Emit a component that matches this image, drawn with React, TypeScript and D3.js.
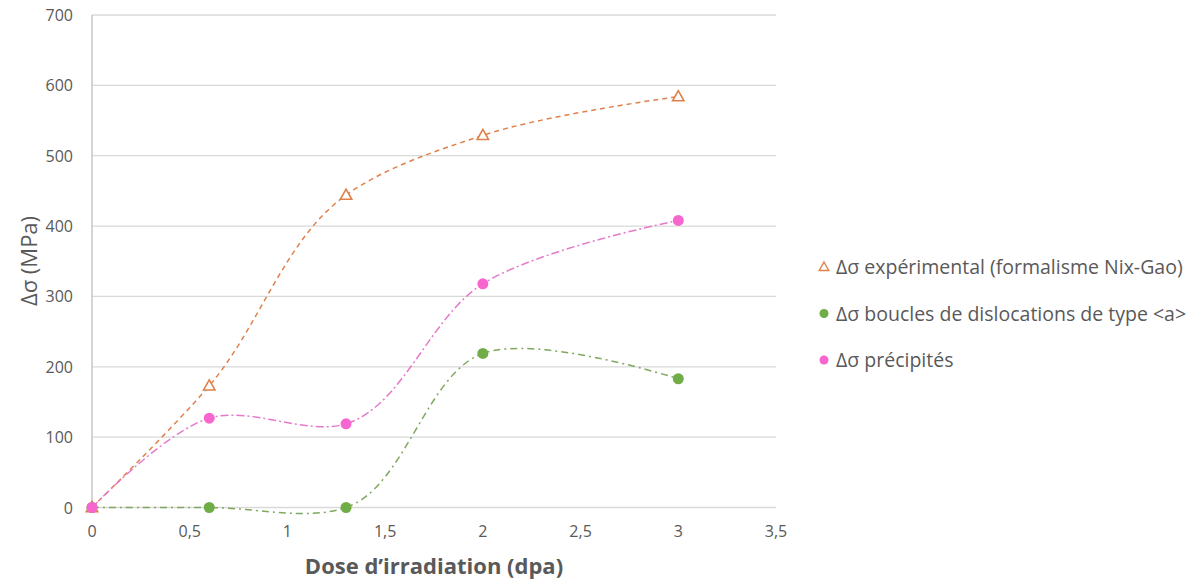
import React from "react";
import * as d3 from "d3";

const doses = [0, 0.6, 1.3, 2, 3];
const experimental = [0, 173, 444, 529, 584];
const boucles = [0, 0, 0, 219, 183];
const precipites = [0, 127, 119, 318, 408];
const xTicks = [0, 0.5, 1, 1.5, 2, 2.5, 3, 3.5];
const yTicks = [0, 100, 200, 300, 400, 500, 600, 700];
const legendLabels = [
  "Δσ expérimental (formalisme Nix-Gao)",
  "Δσ boucles de dislocations de type <a>",
  "Δσ précipités",
];

const W = 1203, H = 581;
const x = d3.scaleLinear().domain([0, 3.5]).range([92, 776]);
const y = d3.scaleLinear().domain([0, 700]).range([507.5, 15]);
const fmt = (v: number) => String(v).replace(".", ",");
const line = d3
  .line<[number, number]>()
  .x((d) => x(d[0]))
  .y((d) => y(d[1]))
  .curve(d3.curveCatmullRom.alpha(1));

const ORANGE = "#E0804A";
const GREEN = "#70AD47";
const PINK = "#F766CF";
const FONT = "'Open Sans', sans-serif";

export default function App() {
  const pts = (vals: number[]) => doses.map((d, i) => [d, vals[i]] as [number, number]);
  const tri = (cx: number, cy: number, s = 6) =>
    `M${cx},${cy - s} L${cx + s * 0.95},${cy + s * 0.7} L${cx - s * 0.95},${cy + s * 0.7} Z`;
  return (
    <div style={{ position: "absolute", left: 0, top: 0 }}>
      <svg width={W} height={H} style={{ display: "block", fontFamily: FONT }}>
        <rect width={W} height={H} fill="#fff" />
        {yTicks.map((t) => (
          <g key={t}>
            <line x1={92} x2={776} y1={y(t)} y2={y(t)} stroke="#d9d9d9" strokeWidth={1.3} />
            <text x={73} y={y(t) + 6} textAnchor="end" fontSize={16} fill="#595959">
              {t}
            </text>
          </g>
        ))}
        <line x1={92} x2={92} y1={15} y2={507.5} stroke="#bfbfbf" strokeWidth={1.3} />
        {xTicks.map((t) => (
          <text key={t} x={x(t)} y={537} textAnchor="middle" fontSize={16} fill="#595959">
            {fmt(t)}
          </text>
        ))}
        <text x={434} y={574} textAnchor="middle" fontSize={22} fontWeight="bold" fill="#595959">
          Dose d’irradiation (dpa)
        </text>
        <text
          transform={`translate(37,261) rotate(-90)`}
          textAnchor="middle"
          fontSize={22}
          fill="#595959"
        >
          Δσ (MPa)
        </text>

        <path d={line(pts(experimental)) || ""} fill="none" stroke={ORANGE} strokeWidth={1.5} strokeDasharray="5,4" />
        <path d={line(pts(precipites)) || ""} fill="none" stroke="#E57ACB" strokeWidth={1.5} strokeDasharray="8,3,2,3" />
        <path d={line(pts(boucles)) || ""} fill="none" stroke="#7FA860" strokeWidth={1.5} strokeDasharray="7,4,2,4" />

        {doses.map((d, i) => (
          <path key={"t" + i} d={tri(x(d), y(experimental[i]))} fill="#fff" stroke={ORANGE} strokeWidth={1.6} />
        ))}
        {doses.map((d, i) => (
          <circle key={"g" + i} cx={x(d)} cy={y(boucles[i])} r={5.5} fill={GREEN} />
        ))}
        {doses.map((d, i) => (
          <circle key={"p" + i} cx={x(d)} cy={y(precipites[i])} r={5.5} fill={PINK} />
        ))}

        {legendLabels.map((lab, i) => {
          const cy = 267 + i * 46.5;
          return (
            <g key={lab}>
              {i === 0 ? (
                <path d={tri(824, cy, 5)} fill="#fff" stroke={ORANGE} strokeWidth={1.4} />
              ) : (
                <circle cx={824} cy={cy} r={4.5} fill={i === 1 ? GREEN : PINK} />
              )}
              <text x={836} y={cy + 7} fontSize={19.5} fill="#595959">
                {lab}
              </text>
            </g>
          );
        })}
      </svg>
    </div>
  );
}
